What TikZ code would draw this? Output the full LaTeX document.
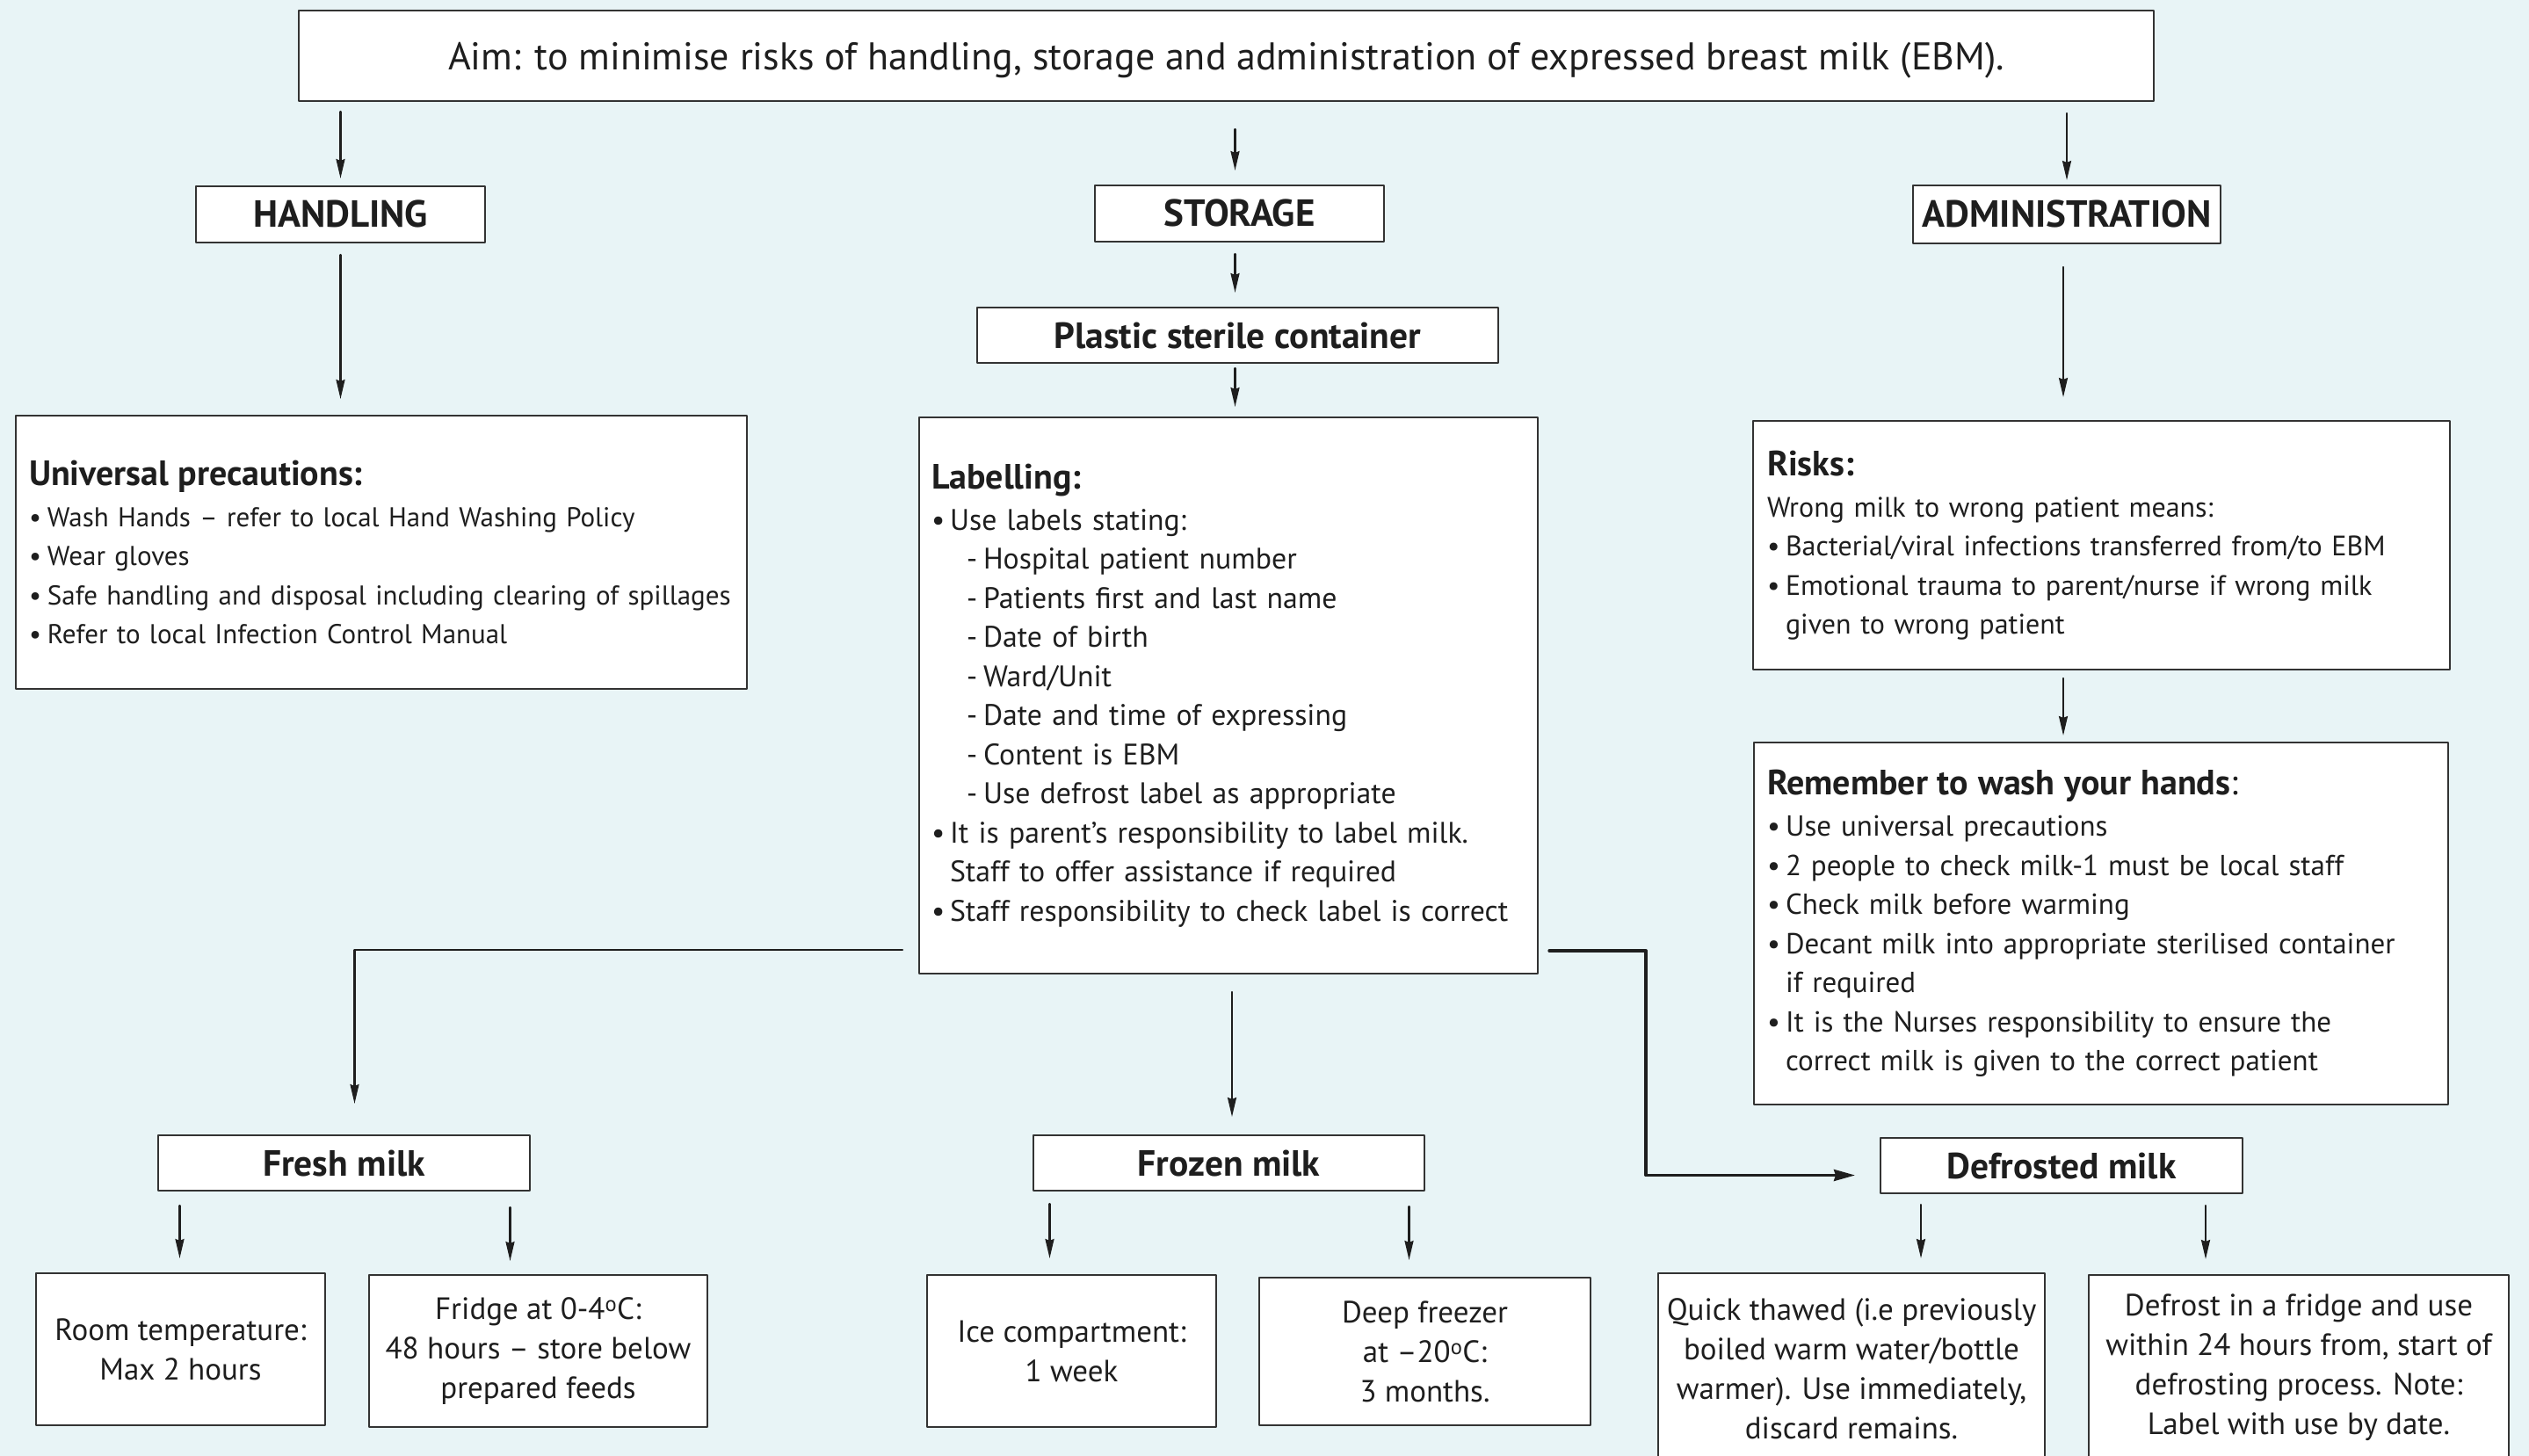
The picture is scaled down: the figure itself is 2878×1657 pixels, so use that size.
\documentclass[tikz,border=0pt]{standalone}
\usepackage{fontspec}
\setmainfont{PT Sans}
\usetikzlibrary{arrows.meta,calc,positioning}
\definecolor{ebmBack}{HTML}{E8F4F6}
\definecolor{ebmLine}{HTML}{333333}
\definecolor{ebmInk}{HTML}{1E1E1E}
\newcommand{\bul}{\makebox[21pt][l]{\textbullet}}
\newcommand{\goon}{\hspace*{21pt}}
\newcommand{\dashitem}{\hspace*{40pt}\makebox[19pt][l]{-}}
\newcommand{\listhead}[1]{{\fontsize{40}{44.5}\selectfont\bfseries #1}\\[2.5pt]}
\begin{document}
\begin{tikzpicture}[x=1pt,y=-1pt,line cap=round,line join=round]
\useasboundingbox (0,0) rectangle (2878,1657);
\clip (0,0) rectangle (2878,1657);
\path[fill=ebmBack] (0,0) rectangle (2878,1657);
\tikzset{box/.style={draw=ebmLine,fill=white,line width=2pt,inner sep=0pt,text=ebmInk},aimbox/.style={box,font=\fontsize{44}{50}\selectfont,text height=31pt,text depth=0pt},headbox/.style={box,font=\fontsize{41.5}{46}\selectfont\bfseries,text height=29pt,text depth=0pt},capsbox/.style={headbox,font=\fontsize{43}{46}\selectfont\bfseries},listbox/.style={box,align=left,font=\fontsize{31}{44.5}\selectfont},endbox/.style={box,align=center,font=\fontsize{35}{45}\selectfont},arr/.style={draw=ebmInk,line width=2.2pt,-{Stealth[length=22pt,width=10pt,inset=2pt]}},bigarr/.style={arr,line width=3.4pt,-{Stealth[length=24pt,width=13pt,inset=2pt]}}}
\node[aimbox,minimum width=2111pt,minimum height=103pt] (aim) at (1395.5,63.5) {Aim: to minimise risks of handling, storage and administration of expressed breast milk (EBM).};
\node[capsbox,minimum width=329pt,minimum height=64pt] (handling) at (387.5,244) {HANDLING};
\node[capsbox,minimum width=329pt,minimum height=64pt] (storage) at (1410.5,243) {STORAGE};
\node[capsbox,minimum width=350pt,minimum height=66pt] (admin) at (2352,244) {ADMINISTRATION};
\node[headbox,minimum width=593pt,minimum height=63pt] (plastic) at (1408.5,381.5) {Plastic sterile container};
\node[listbox,text width=802pt,inner xsep=15pt,minimum height=311pt] (univ) at (434,628.5) {\listhead{Universal precautions:}\bul Wash Hands – refer to local Hand Washing Policy\\\bul Wear gloves\\\bul Safe handling and disposal including clearing of spillages\\\bul Refer to local Infection Control Manual};
\node[listbox,font=\fontsize{33.8}{44.5}\selectfont,text width=676pt,inner xsep=14pt,minimum height=633pt] (label) at (1398,791.5) {\listhead{Labelling:}\bul Use labels stating:\\\dashitem Hospital patient number\\\dashitem Patients first and last name\\\dashitem Date of birth\\\dashitem Ward/Unit\\\dashitem Date and time of expressing\\\dashitem Content is EBM\\\dashitem Use defrost label as appropriate\\\bul It is parent’s responsibility to label milk.\\\goon Staff to offer assistance if required\\\bul Staff responsibility to check label is correct};
\node[listbox,font=\fontsize{32}{44.5}\selectfont,text width=761pt,inner xsep=16pt,minimum height=283pt] (risks) at (2391.5,620.5) {\listhead{Risks:}Wrong milk to wrong patient means:\\\bul Bacterial/viral infections transferred from/to EBM\\\bul Emotional trauma to parent/nurse if wrong milk\\\goon given to wrong patient};
\node[listbox,font=\fontsize{33}{44.5}\selectfont,text width=760pt,inner xsep=15pt,minimum height=412pt] (remember) at (2391,1051) {\listhead{Remember to wash your hands{\mdseries:}}\bul Use universal precautions\\\bul 2 people to check milk-1 must be local staff\\\bul Check milk before warming\\\bul Decant milk into appropriate sterilised container\\\goon if required\\\bul It is the Nurses responsibility to ensure the\\\goon correct milk is given to the correct patient};
\node[headbox,minimum width=423pt,minimum height=63pt] (fresh) at (391.5,1323.5) {Fresh milk};
\node[headbox,minimum width=445pt,minimum height=63pt] (frozen) at (1398.5,1323.5) {Frozen milk};
\node[headbox,minimum width=412pt,minimum height=63pt] (defrosted) at (2346,1326.5) {Defrosted milk};
\node[endbox,minimum width=329pt,minimum height=173pt] (room) at (205.5,1535.5) {Room temperature:\\Max 2 hours};
\node[endbox,minimum width=385pt,minimum height=173pt] (fridge) at (612.5,1537.5) {Fridge at 0-4\textsuperscript{o}C:\\48 hours – store below\\prepared feeds};
\node[endbox,minimum width=329pt,minimum height=173pt] (ice) at (1219.5,1537.5) {Ice compartment:\\1 week};
\node[endbox,minimum width=377pt,minimum height=168pt] (deep) at (1621.5,1538) {Deep freezer\\at –20\textsuperscript{o}C:\\3 months.};
\node[endbox,minimum width=440pt,minimum height=217pt] (quick) at (2107,1557.5) {Quick thawed (i.e previously\\boiled warm water/bottle\\warmer). Use immediately,\\discard remains.};
\node[endbox,minimum width=478pt,minimum height=210pt] (defrost) at (2616,1556) {Defrost in a fridge and use\\within 24 hours from, start of\\defrosting process. Note:\\Label with use by date.};
\draw[arr] ($(handling.north |- aim.south)+(0,11)$) -- ($(handling.north)+(0,-8)$);
\draw[arr] ($(storage.north |- aim.south)+(-5,31)$) -- ($(storage.north)+(-5,-16)$);
\draw[arr] ($(admin.north |- aim.south)+(0,13)$) -- ($(admin.north)+(0,-5)$);
\draw[arr] ($(handling.south)+(0,13)$) -- ($(handling.south |- univ.north)+(0,-18)$);
\draw[arr] ($(storage.south)+(-5,13)$) -- ($(storage.south |- plastic.north)+(-5,-16)$);
\draw[arr] ($(plastic.south)+(-3,5)$) -- ($(plastic.south |- label.north)+(-3,-11)$);
\draw[arr] ($(admin.south)+(-4,26)$) -- ($(admin.south |- risks.north)+(-4,-26)$);
\draw[arr] ($(admin.south |- risks.south)+(-4,9)$) -- ($(admin.south |- remember.north)+(-4,-7)$);
\draw[arr] ($(label.south west)+(-18,-28)$) -| ($(fresh.north)+(12,-35)$);
\draw[arr] ($(label.south)+(4,20)$) -- ($(label.south |- frozen.north)+(4,-20)$);
\draw[bigarr] ($(label.south east)+(12,-27)$) -- ++(110,0) |- ($(defrosted.west)+(-28,11)$);
\draw[arr] ($(room.north |- fresh.south)+(-1,16)$) -- ($(room.north)+(-1,-16)$);
\draw[arr] ($(fridge.north |- fresh.south)+(-32,18)$) -- ($(fridge.north)+(-32,-15)$);
\draw[arr] ($(ice.north |- frozen.south)+(-25,14)$) -- ($(ice.north)+(-25,-18)$);
\draw[arr] ($(deep.north |- frozen.south)+(-18,17)$) -- ($(deep.north)+(-18,-19)$);
\draw[arr] ($(quick.north |- defrosted.south)+(79,12)$) -- ($(quick.north)+(79,-16)$);
\draw[arr] ($(defrost.north |- defrosted.south)+(-106,13)$) -- ($(defrost.north)+(-106,-17)$);
\end{tikzpicture}
\end{document}
